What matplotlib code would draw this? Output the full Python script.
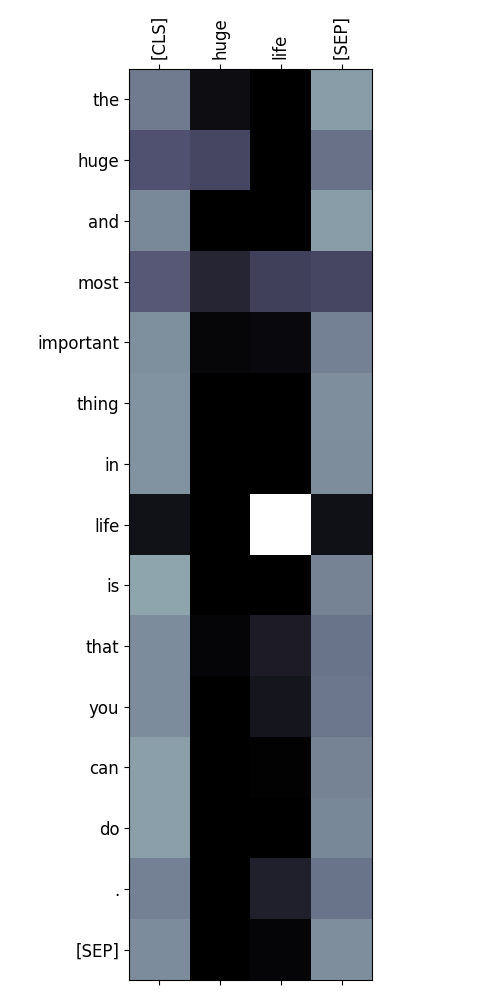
import numpy as np
import matplotlib
matplotlib.use("Agg")
import matplotlib.pyplot as plt

# tokens
cols = ["[CLS]", "huge", "life", "[SEP]"]
rows = ["the", "huge", "and", "most", "important", "thing", "in", "life",
        "is", "that", "you", "can", "do", ".", "[SEP]"]

# attention weights
att_cls = [0.50, 0.36, 0.55, 0.39, 0.57, 0.58, 0.58, 0.08, 0.64, 0.555, 0.555, 0.62, 0.62, 0.52, 0.555]
att_huge = [0.06, 0.32, 0.0, 0.17, 0.03, 0.0, 0.0, 0.0, 0.0, 0.025, 0.0, 0.0, 0.0, 0.0, 0.0]
att_life = [0.0, 0.0, 0.0, 0.29, 0.045, 0.005, 0.005, 1.0, 0.0, 0.125, 0.10, 0.012, 0.0, 0.145, 0.025]
att_sep = [0.61, 0.47, 0.61, 0.32, 0.52, 0.565, 0.56, 0.075, 0.53, 0.475, 0.485, 0.53, 0.545, 0.475, 0.565]

mat = np.array([att_cls, att_huge, att_life, att_sep]).T

fig = plt.figure(figsize=(5, 10), dpi=100)
ax = fig.add_axes([0.258, 0.02, 0.486, 0.911])
ax.imshow(mat, cmap="bone", vmin=0, vmax=1, aspect="equal")

ax.set_xticks(range(len(cols)))
ax.set_xticklabels(cols, rotation=90, fontsize=12)
ax.set_yticks(range(len(rows)))
ax.set_yticklabels(rows, fontsize=12)
ax.tick_params(top=True, labeltop=True, bottom=True, labelbottom=False)

fig.savefig("out.png", dpi=100)
